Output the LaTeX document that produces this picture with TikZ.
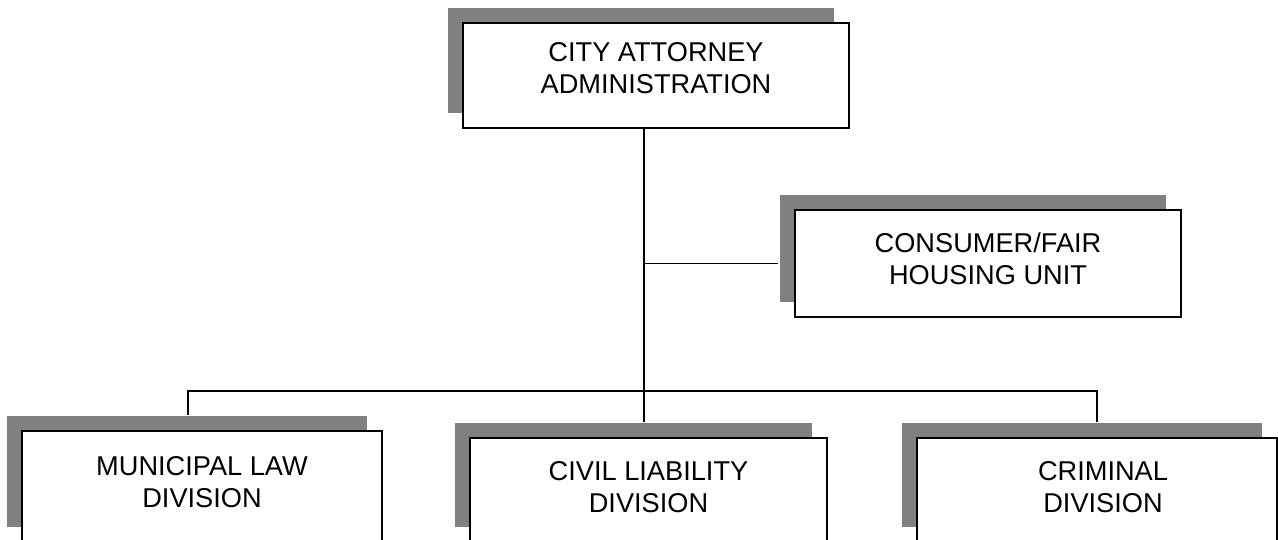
\documentclass[tikz,border=0pt]{standalone}
\usepackage{fontspec}
\setmainfont{Liberation Sans}
\usetikzlibrary{positioning, shadows, fit}

\begin{document}
\begin{tikzpicture}[x=0.5pt, y=-0.5pt,
			unit/.style={draw=black, line width=1pt, fill=white, inner sep=0pt,
				drop shadow={shadow xshift=-7.5pt, shadow yshift=7.5pt, fill=black!50, opacity=1}},
			unitname/.style={align=center, inner sep=0pt, font=\fontsize{13.6}{16}\selectfont},
			conn/.style={draw=black, line width=0.9pt}
			]
			% Page frame
			\useasboundingbox (0,0) rectangle (1278,540);
			\clip (0,0) rectangle (1278,540);
			
			% Office boxes
			\node[unit, fit={(463,23) (849,128)}] (adm) {};
			\node[unit, fit={(795,210) (1181,317)}] (cons) {};
			\node[unit, fit={(22,431) (382,542)}] (mun) {};
			\node[unit, fit={(470,438) (827,542)}] (civ) {};
			\node[unit, fit={(917,438) (1277,542)}] (crim) {};
			
			\node[unitname] (admname) at ([yshift=-23pt]adm.north) {CITY ATTORNEY\\ADMINISTRATION};
			\node[unitname] (consname) at ([yshift=-25pt]cons.north) {CONSUMER/FAIR\\HOUSING UNIT};
			\node[unitname] (munname) at ([yshift=-26pt]mun.north) {MUNICIPAL LAW\\DIVISION};
			\node[unitname] (civname) at ([yshift=-25pt]civ.north) {CIVIL LIABILITY\\DIVISION};
			\node[unitname] (crimname) at ([xshift=3pt, yshift=-25pt]crim.north) {CRIMINAL\\DIVISION};
			
			% Reporting lines
			\coordinate (bar) at (644,391);
			\draw[conn] (adm.south -| bar) -- ([yshift=7.5pt]civ.north -| bar);
			\draw[conn] (cons.west -| bar) -- ([xshift=-8pt]cons.west);
			\draw[conn] ([shift={(-7pt,7.5pt)}]mun.north) |- (crim.north |- bar) -- ([yshift=7.5pt]crim.north);
		\end{tikzpicture}
\end{document}
